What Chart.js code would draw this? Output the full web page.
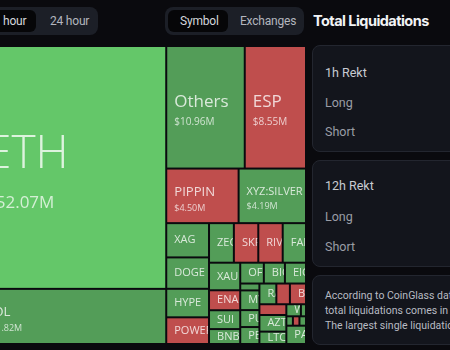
<!DOCTYPE html>
<html>
<head>
<meta charset="utf-8">
<script src="https://cdn.jsdelivr.net/npm/chart.js@4.4.1/dist/chart.umd.min.js"></script>
<style>
  html, body { margin: 0; padding: 0; width: 450px; height: 350px; overflow: hidden; background: #0a0a0e; font-family: Roboto, sans-serif; }
  .group { position: absolute; top: 7px; height: 28px; background: #1c1f27; border-radius: 8px; }
  .sel { position: absolute; top: 3px; height: 22px; background: #060608; border-radius: 6px; }
  .btn { position: absolute; top: 0; line-height: 28px; font-size: 12px; letter-spacing: -0.2px; color: #b3b6be; white-space: nowrap; }
  .btn.on { color: #d4d6dc; }
  #mapWrap { position: absolute; left: -22px; top: 46px; width: 328px; height: 298px; }
  .title { position: absolute; left: 313px; top: 12px; font-family: Inter, sans-serif; font-weight: 700; font-size: 14.5px; letter-spacing: -0.55px; color: #f2f3f5; white-space: nowrap; }
  .panel { position: absolute; left: 312px; width: 170px; background: #13151c; border: 1px solid #23262f; border-radius: 8px; box-sizing: border-box; }
  .row { position: absolute; left: 12px; font-size: 12.5px; white-space: nowrap; line-height: 16px; }
  .head { color: #c8cbd2; }
  .sub { color: #9a9da6; }
  .note { position: absolute; left: 12px; font-size: 10.5px; line-height: 15px; color: #b8bbc3; white-space: nowrap; }
</style>
</head>
<body>

<!-- time range switch -->
<div class="group" style="left:-60px; width:158px;">
  <div class="sel" style="left:3px; width:93px;"></div>
  <div class="btn on" style="left:63px;">hour</div>
  <div class="btn" style="left:110px;">24 hour</div>
</div>

<!-- grouping switch -->
<div class="group" style="left:165px; width:139px;">
  <div class="sel" style="left:3px; width:60px;"></div>
  <div class="btn on" style="left:15px;">Symbol</div>
  <div class="btn" style="left:75px;">Exchanges</div>
</div>

<div class="title">Total Liquidations</div>

<div class="panel" style="top:45px; height:107px;">
  <div class="row head" style="top:19px;">1h Rekt</div>
  <div class="row sub" style="top:49px;">Long</div>
  <div class="row sub" style="top:78px;">Short</div>
</div>
<div class="panel" style="top:160px; height:107px;">
  <div class="row head" style="top:17px;">12h Rekt</div>
  <div class="row sub" style="top:48px;">Long</div>
  <div class="row sub" style="top:78px;">Short</div>
</div>
<div class="panel" style="top:275px; height:70px;">
  <div class="note" style="top:12px;">According to CoinGlass data, in the past 24 hours,</div>
  <div class="note" style="top:27px;">total liquidations comes in at</div>
  <div class="note" style="top:42px;">The largest single liquidation order happened</div>
</div>

<div id="mapWrap"><canvas id="map" width="328" height="298"></canvas></div>

<script>
// Liquidated amount per symbol (USD millions), in feed order
const symbols = ['ETH', 'SOL', 'Others', 'ESP', 'PIPPIN', 'XYZ:SILVER',
  'XAG', 'DOGE', 'HYPE', 'POWER', 'ZEC', 'SKR', 'RIVER', 'FARTCOIN', 'XAU',
  'ENA', 'SUI', 'BNB', 'OFC', 'BIO', 'EIGEN', 'ADA',
  'MYX', 'PUMP', 'PEPE', 'RAVE', 'SIREN', 'BCH', 'FIL', 'AZTEC', 'LTC', 'WIF',
  'XRP', 'AVAX', 'LINK', 'TRX', 'PAXG'];
const liquidations = [52.07, 11.82, 10.96, 8.55, 4.50, 4.19,
  1.67, 1.53, 1.39, 1.30, 1.12, 1.10, 1.10, 1.05, 0.98,
  0.71, 0.67, 0.53, 0.56, 0.50, 0.50, 0.15,
  0.43, 0.37, 0.37, 0.40, 0.32, 0.38, 0.33, 0.51, 0.38, 0.20,
  0.07, 0.07, 0.07, 0.07, 0.41];
// Price direction of each symbol
const trend = ['strongUp', 'up', 'up', 'down', 'down', 'up',
  'up', 'up', 'up', 'down', 'up', 'down', 'down', 'up', 'up',
  'down', 'up', 'up', 'up', 'up', 'up', 'up',
  'up', 'up', 'up', 'up', 'down', 'down', 'down', 'up', 'up', 'up',
  'up', 'up', 'down', 'up', 'up'];

const MAP_W = 328, MAP_H = 298;
const SQUARE_RATIO = 1.4;
const fills = { strongUp: '#64c769', up: '#539d58', down: '#bf4e4d' };

// Squarified layout: rows run along the shorter side of the free area
function worst(row, area, side, ratio) {
  let mx = 0, mn = Infinity;
  row.forEach(c => { mx = Math.max(mx, c.area); mn = Math.min(mn, c.area); });
  const f = side * side * ratio, a2 = area * area;
  return Math.max(f * mx / a2, a2 / (f * mn));
}
function placeRow(row, area, side, r, out, flush) {
  const horiz = side === r.w;
  let thick = area / side;
  const avail = horiz ? r.h : r.w;
  if (flush || thick > avail) thick = avail;
  let pos = horiz ? r.x : r.y;
  const end = horiz ? r.x + r.w : r.y + r.h;
  row.forEach((c, k) => {
    const step = c.area / thick;
    const remain = end - pos;
    const len = (k === row.length - 1 || remain < step) ? remain : step;
    out[c.i] = horiz ? { x: pos, y: r.y, w: len, h: thick } : { x: r.x, y: pos, w: thick, h: len };
    pos += len;
  });
  if (horiz) { r.y += thick; r.h -= thick; } else { r.x += thick; r.w -= thick; }
}
function squarify(values, rect, ratio) {
  const total = values.reduce((a, b) => a + b, 0);
  const k = rect.w * rect.h / total;
  const items = values.map((v, i) => ({ i, area: v * k }));
  const out = new Array(values.length);
  const r = Object.assign({}, rect);
  let side = Math.min(r.w, r.h), row = [], area = 0, best = Infinity;
  for (let i = 0; i < items.length;) {
    const it = items[i];
    row.push(it); area += it.area;
    const s = worst(row, area, side, ratio);
    if (s <= best) { i++; best = s; }
    else {
      row.pop(); area -= it.area;
      placeRow(row, area, side, r, out, false);
      side = Math.min(r.w, r.h); row = []; area = 0; best = Infinity;
    }
  }
  if (row.length) placeRow(row, area, side, r, out, true);
  return out;
}

const cells = squarify(liquidations, { x: 0, y: 0, w: MAP_W, h: MAP_H }, SQUARE_RATIO);

function fitFont(ctx, text, size, weight, maxW, minSize) {
  let s = size;
  ctx.font = weight + ' ' + s + 'px "Open Sans"';
  while (s > minSize && ctx.measureText(text).width > maxW) {
    s -= 0.5;
    ctx.font = weight + ' ' + s + 'px "Open Sans"';
  }
  return s;
}

const treemapPlugin = {
  id: 'treemap',
  afterDatasetsDraw(chart) {
    const { ctx, scales: { x, y } } = chart;
    cells.forEach((c, i) => {
      const x0 = x.getPixelForValue(c.x), x1 = x.getPixelForValue(c.x + c.w);
      const y0 = y.getPixelForValue(c.y), y1 = y.getPixelForValue(c.y + c.h);
      const L = Math.min(x0, x1) + 1, T = Math.min(y0, y1) + 1;
      const W = Math.abs(x1 - x0) - 2, H = Math.abs(y1 - y0) - 2;
      if (W <= 0 || H <= 0) return;
      ctx.save();
      ctx.fillStyle = fills[trend[i]];
      ctx.fillRect(L, T, W, H);
      ctx.beginPath();
      ctx.rect(L, T, W, H);
      ctx.clip();
      if (W >= 12 && H >= 10) {
        const v = liquidations[i];
        const label = symbols[i];
        const valueText = '$' + v.toFixed(2) + 'M';
        const pad = 8;
        let lSize, vSize, weight = 400, showValue = false;
        if (v >= 30) { lSize = 46; vSize = 17; weight = 300; showValue = true; }
        else if (v >= 4.4) {
          lSize = fitFont(ctx, label, Math.min(17, Math.max(11, H * 0.25)), 400, W - 2 * pad, 11);
          vSize = H > 60 ? 10 : 9; showValue = H > 45;
        }
        else { lSize = 11; vSize = 9; showValue = H > 45; }
        ctx.fillStyle = 'rgba(255,255,255,0.78)';
        ctx.textAlign = 'left';
        ctx.textBaseline = 'middle';
        const gap = lSize * 0.22;
        const lh = lSize * 1.2, vh = vSize * 1.2;
        const blockH = showValue ? lh + gap + vh : lh;
        const top = T + H / 2 - blockH / 2 + (showValue ? 3 : 0);
        ctx.font = weight + ' ' + lSize + 'px "Open Sans"';
        ctx.fillText(label, L + pad - 1, top + lh / 2);
        if (showValue) {
          ctx.font = '400 ' + vSize + 'px "Open Sans"';
          ctx.fillStyle = 'rgba(255,255,255,0.72)';
          ctx.fillText(valueText, L + pad - 1, top + lh + gap + vh / 2);
        }
      }
      ctx.restore();
    });
  }
};

new Chart(document.getElementById('map'), {
  type: 'scatter',
  data: { datasets: [{ data: [] }] },
  options: {
    responsive: false,
    animation: false,
    events: [],
    layout: { padding: 0 },
    plugins: { legend: { display: false }, tooltip: { enabled: false } },
    scales: {
      x: { type: 'linear', min: 0, max: MAP_W, display: false },
      y: { type: 'linear', min: 0, max: MAP_H, reverse: true, display: false }
    }
  },
  plugins: [treemapPlugin]
});
</script>
</body>
</html>
